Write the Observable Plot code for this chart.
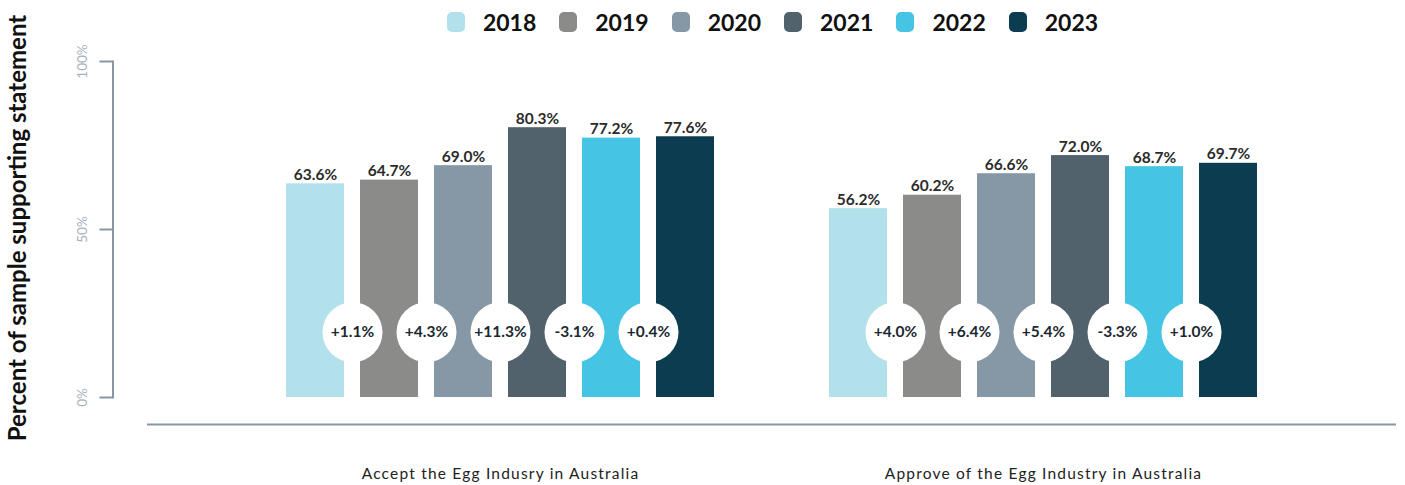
<!DOCTYPE html>
<html><head><meta charset="utf-8">
<script src="https://cdn.jsdelivr.net/npm/d3@7"></script>
<script src="https://cdn.jsdelivr.net/npm/@observablehq/plot@0.6"></script>
<style>
body{margin:0;background:#fff;font-family:Lato,sans-serif;width:1405px;height:485px;overflow:hidden;position:relative}
#legend{height:44px;display:flex;justify-content:center;align-items:center;padding-left:140px;box-sizing:border-box;width:1405px}
.item{display:flex;align-items:center;margin:0 11.5px}
.sw{width:18px;height:20px;border-radius:5px;margin-right:18px}
.lab{font-weight:700;font-size:23px;color:#111}
#ytitle{position:absolute;left:16px;top:228px;transform:translate(-50%,-50%) rotate(-90deg);white-space:nowrap;font-weight:700;font-size:24px;color:#111}
#chart g[aria-label="fx-axis tick label"]{letter-spacing:1.2px}
</style></head>
<body>
<div id="legend"></div>
<div id="chart"></div>
<div id="ytitle">Percent of sample supporting statement</div>
<script>
const groups = ["Accept the Egg Indusry in Australia", "Approve of the Egg Industry in Australia"];
const years = ["2018", "2019", "2020", "2021", "2022", "2023"];
const yearColors = ["#b2e1ec", "#8b8c89", "#8698a6", "#52626d", "#45c4e4", "#0b3c50"];
const acceptValues = [63.6, 64.7, 69.0, 80.3, 77.2, 77.6];
const approveValues = [56.2, 60.2, 66.6, 72.0, 68.7, 69.7];
const acceptChanges = [1.1, 4.3, 11.3, -3.1, 0.4];
const approveChanges = [4.0, 6.4, 5.4, -3.3, 1.0];
const yTicks = [0, 50, 100];
const changeLevel = 19.4; // vertical level (in %) of the change bubbles

const seriesByGroup = [acceptValues, approveValues];
const changesByGroup = [acceptChanges, approveChanges];
const bars = groups.flatMap((g, gi) => years.map((y, i) => ({group: g, year: y, value: seriesByGroup[gi][i]})));
const changes = groups.flatMap((g, gi) => changesByGroup[gi].map((c, i) => ({group: g, year: years[i + 1], change: c})));

// legend
const legend = document.getElementById("legend");
years.forEach((y, i) => {
  const it = document.createElement("div"); it.className = "item";
  it.innerHTML = `<div class="sw" style="background:${yearColors[i]}"></div><div class="lab">${y}</div>`;
  legend.appendChild(it);
});

const fmtChange = d => (d.change > 0 ? "+" : "") + d.change.toFixed(1) + "%";
const axisColor = "#8797a5";

const chart = Plot.plot({
  width: 1405, height: 441,
  marginLeft: 113, marginRight: 10, marginTop: 17, marginBottom: 88,
  style: {fontFamily: "Lato, sans-serif", background: "transparent"},
  fx: {domain: groups, paddingInner: 0.1823, paddingOuter: 0.2716, align: 0.561, axis: null, label: null},
  x: {domain: years, paddingInner: 0.2162, paddingOuter: 0.108, axis: null, label: null},
  y: {domain: [0, 100], axis: null, label: null},
  color: {domain: years, range: yearColors},
  marks: [
    Plot.barY(bars, {fx: "group", x: "year", y: "value", fill: "year"}),
    Plot.text(bars, {fx: "group", x: "year", y: "value", text: d => d.value.toFixed(1) + "%",
      lineAnchor: "bottom", dy: -4, fontWeight: 700, fontSize: 15.5, fill: "#2b2b2b"}),
    Plot.dot(changes, {fx: "group", x: "year", y: () => changeLevel, r: 30, fill: "white", dx: -37}),
    Plot.text(changes, {fx: "group", x: "year", y: () => changeLevel, text: fmtChange, dx: -37,
      fontWeight: 700, fontSize: 15.5, fill: "#1b2830"}),
    // vertical y-axis line (frame left side, shifted to the axis position)
    Plot.frame({anchor: "left", facet: "super", dx: -165.5, stroke: axisColor, strokeWidth: 2}),
    // y ticks
    Plot.axisY({ticks: yTicks, tickSize: 13, text: null, dx: -165.5, stroke: axisColor, strokeWidth: 2, label: null}),
    // y tick labels (rotated)
    Plot.axisY({ticks: yTicks, tickFormat: d => d + "%", tickSize: 0, tickPadding: 30, dx: -165.5,
      rotate: -90, textAnchor: "middle", lineAnchor: "middle", fill: "#a6b3be", fontSize: 13.5, label: null}),
    // baseline below the bars
    Plot.frame({anchor: "bottom", facet: "super", dy: 27, insetLeft: -130.5, insetRight: -129.5, stroke: axisColor, strokeWidth: 2}),
    Plot.axisFx({anchor: "bottom", tickSize: 0, tickPadding: 70, fontSize: 15.5, fill: "#222", label: null})
  ]
});
document.getElementById("chart").appendChild(chart);
</script>
</body></html>
